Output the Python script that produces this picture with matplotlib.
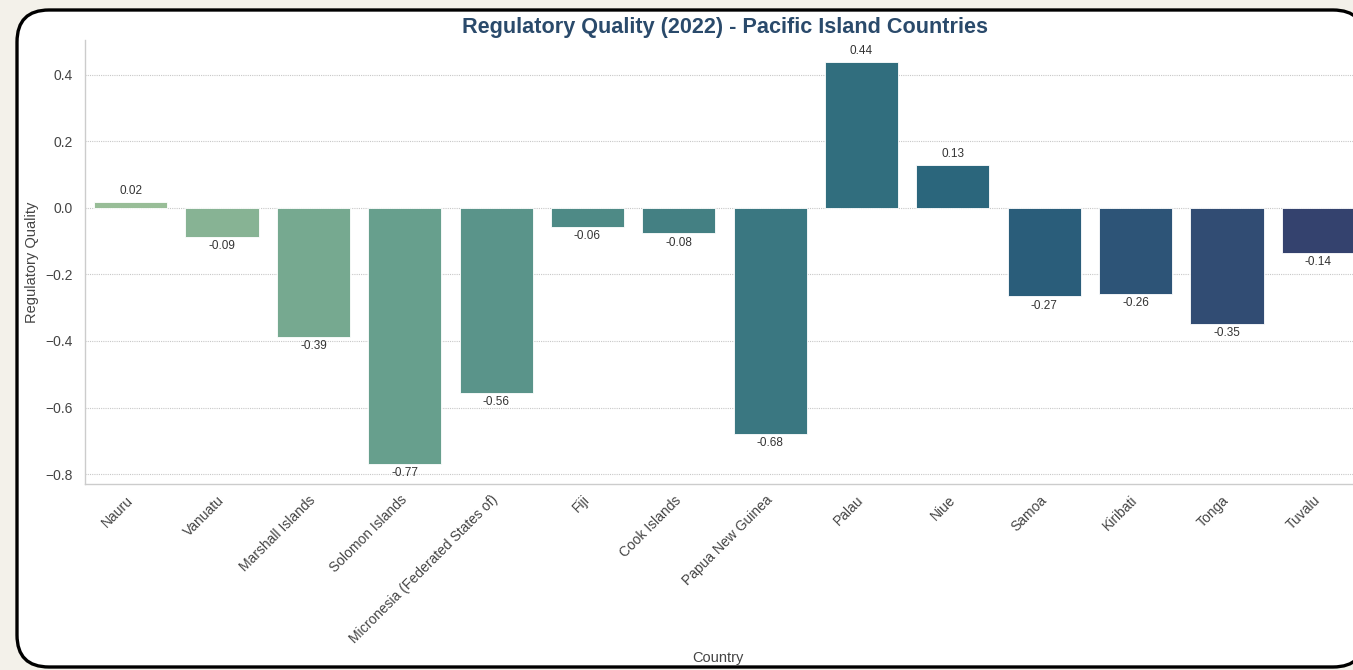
import numpy as np
import matplotlib
matplotlib.use("Agg")
import matplotlib.pyplot as plt
import seaborn as sns
from matplotlib.patches import FancyBboxPatch
from matplotlib.transforms import IdentityTransform

countries = ["Nauru", "Vanuatu", "Marshall Islands", "Solomon Islands",
             "Micronesia (Federated States of)", "Fiji", "Cook Islands",
             "Papua New Guinea", "Palau", "Niue", "Samoa", "Kiribati",
             "Tonga", "Tuvalu"]
scores = [0.018, -0.087, -0.388, -0.770, -0.556, -0.057, -0.076,
          -0.680, 0.439, 0.129, -0.266, -0.259, -0.349, -0.135]

sns.set_style("whitegrid")
plt.rcParams['font.family'] = ['Liberation Sans', 'DejaVu Sans']

W, H = 1353, 670
fig = plt.figure(figsize=(W / 100, H / 100), dpi=100)
fig.patch.set_facecolor("#f3f1ea")

# rounded card behind the chart (pixel coordinates)
card = FancyBboxPatch((17, 3), 1348, 657,
                      boxstyle="round,pad=0,rounding_size=32",
                      transform=IdentityTransform(),
                      facecolor="white", edgecolor="black", linewidth=2.4,
                      zorder=0)
fig.add_artist(card)

ax = fig.add_axes([85 / W, (H - 484) / H, (1364 - 85) / W, 444 / H])
ax.set_facecolor("none")

# seaborn barplot look: crest palette at 0.75 saturation
colors = [sns.desaturate(c, 0.75) for c in sns.color_palette("crest", len(countries))]
x = np.arange(len(countries))
ax.bar(x, scores, width=0.8, color=colors, edgecolor="white",
       linewidth=0.6, zorder=2)

for xi, v in zip(x, scores):
    if v >= 0:
        ax.text(xi, v + 0.015, f"{v:.2f}", ha="center", va="bottom",
                fontsize=8.5, color="#333333", zorder=3)
    else:
        ax.text(xi, v - 0.01, f"{v:.2f}", ha="center", va="top",
                fontsize=8.5, color="#333333", zorder=3)

ax.set_xlim(-0.5, len(countries) - 0.5)
ax.set_ylim(-0.83, 0.505)
ax.set_yticks([-0.8, -0.6, -0.4, -0.2, 0.0, 0.2, 0.4])
ax.set_yticklabels([f"{t:.1f}".replace("-", "\u2212") for t in ax.get_yticks()])
ax.set_xticks(x)
ax.set_xticklabels(countries, rotation=45, ha="right", va="center",
                   rotation_mode="anchor")

ax.grid(axis="x", visible=False)
ax.grid(axis="y", color="#c8c8c8", linestyle=(0, (1, 1)), linewidth=0.8, zorder=0)
ax.set_axisbelow(True)
for side in ["top", "right"]:
    ax.spines[side].set_visible(False)
for side in ["left", "bottom"]:
    ax.spines[side].set_color("#cccccc")
    ax.spines[side].set_linewidth(1.0)

ax.tick_params(axis="both", length=0, labelsize=10, colors="#444444")
ax.tick_params(axis="y", pad=9)
ax.tick_params(axis="x", pad=10)

ax.set_title("Regulatory Quality (2022) - Pacific Island Countries",
             fontsize=15.6, fontweight="bold", color="#2a4a6b", pad=5)
ax.set_xlabel("Country", fontsize=10.5, color="#444444")
ax.set_ylabel("Regulatory Quality", fontsize=10.5, color="#444444")
ax.xaxis.set_label_coords(0.495, -0.377)
ax.yaxis.set_label_coords(-0.036, 0.5)

fig.savefig("out.png", dpi=100, facecolor=fig.get_facecolor())
